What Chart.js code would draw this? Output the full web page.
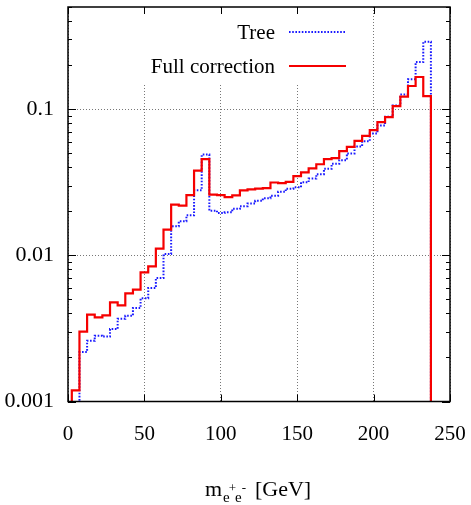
<!DOCTYPE html>
<html>
<head>
<meta charset="utf-8">
<script src="https://cdn.jsdelivr.net/npm/chart.js"></script>
<style>
  body { margin: 0; background: #fff; }
  #wrap { width: 471px; height: 505px; }
</style>
</head>
<body>
<div id="wrap"><canvas id="grafico" width="471" height="505"></canvas></div>
<script>
// Centros de los bins (GeV), ancho 5 GeV
const binCenters = [5, 10, 15, 20, 25, 30, 35, 40, 45, 50, 55, 60, 65, 70, 75, 80,
  85, 90, 95, 100, 105, 110, 115, 120, 125, 130, 135, 140, 145, 150, 155, 160,
  165, 170, 175, 180, 185, 190, 195, 200, 205, 210, 215, 220, 225, 230, 235];
const binWidth = 5;

const treeValues = [0.0009, 0.00218, 0.0026, 0.00282, 0.00278, 0.00313, 0.00368, 0.00386,
  0.00436, 0.00508, 0.00598, 0.0070, 0.0102, 0.0158, 0.0171, 0.0188,
  0.0279, 0.0489, 0.0202, 0.0195, 0.0197, 0.0208, 0.0217, 0.0226,
  0.0236, 0.0246, 0.0256, 0.0272, 0.0286, 0.0292, 0.0316, 0.0335,
  0.0359, 0.0391, 0.0423, 0.0448, 0.0498, 0.0556, 0.0604, 0.0682,
  0.0774, 0.0887, 0.106, 0.126, 0.160, 0.210, 0.289];

const fullValues = [0.00119, 0.00301, 0.00393, 0.00376, 0.00388, 0.00476, 0.00455, 0.00549,
  0.00582, 0.00765, 0.00841, 0.0111, 0.0150, 0.0222, 0.0219, 0.0258,
  0.0380, 0.0455, 0.0260, 0.0258, 0.0250, 0.0257, 0.0278, 0.0283,
  0.0286, 0.0288, 0.0315, 0.0312, 0.0318, 0.0348, 0.0369, 0.0393,
  0.0420, 0.0455, 0.0462, 0.0516, 0.0552, 0.0607, 0.0657, 0.0718,
  0.0815, 0.0882, 0.105, 0.122, 0.144, 0.166, 0.123];

const xTicks = [0, 50, 100, 150, 200, 250];
const yTicks = [0.001, 0.01, 0.1];
const legendLabels = ['Tree', 'Full correction'];

const FONT = "'Liberation Serif', 'Times New Roman', serif";

// Puntos del histograma: borde izquierdo de cada bin, y bajada al final
function histPoints(values) {
  const pts = [{ x: binCenters[0] - binWidth / 2, y: 1e-5 }];
  binCenters.forEach((c, i) => {
    pts.push({ x: c - binWidth / 2, y: values[i] });
  });
  pts.push({ x: binCenters[binCenters.length - 1] + binWidth / 2, y: 1e-5 });
  return pts;
}

// Marco, marcas de ticks, caja de la leyenda y título del eje x
const extras = {
  id: 'extras',
  beforeDatasetsDraw(chart) {
    const a = chart.chartArea;
    const ctx = chart.ctx;
    ctx.save();
    ctx.fillStyle = '#fff';
    ctx.fillRect(130, a.top + 1, 225, 82 - a.top);
    ctx.restore();
  },
  afterDraw(chart) {
    const a = chart.chartArea;
    const ctx = chart.ctx;
    const xs = chart.scales.x;
    const ys = chart.scales.y;
    ctx.save();
    ctx.strokeStyle = '#000';
    ctx.lineWidth = 1.5;
    ctx.strokeRect(a.left, a.top, a.right - a.left, a.bottom - a.top);

    ctx.lineWidth = 1;
    ctx.beginPath();
    xTicks.forEach(v => {
      const px = Math.round(xs.getPixelForValue(v)) + 0.5;
      ctx.moveTo(px, a.bottom); ctx.lineTo(px, a.bottom - 7);
      ctx.moveTo(px, a.top); ctx.lineTo(px, a.top + 7);
    });
    yTicks.forEach(dec => {
      for (let m = 1; m <= 9; m++) {
        const v = dec * m;
        if (v > ys.max) break;
        const py = Math.round(ys.getPixelForValue(v)) + 0.5;
        const len = m === 1 ? 8 : 4;
        ctx.moveTo(a.left, py); ctx.lineTo(a.left + len, py);
        ctx.moveTo(a.right, py); ctx.lineTo(a.right - len, py);
      }
    });
    ctx.stroke();

    // leyenda
    ctx.font = '21px ' + FONT;
    ctx.fillStyle = '#000';
    ctx.textAlign = 'right';
    ctx.textBaseline = 'middle';
    const rows = [33, 67];
    chart.data.datasets.forEach((ds, i) => {
      ctx.fillText(legendLabels[i], 275, rows[i]);
      ctx.strokeStyle = ds.borderColor;
      ctx.lineWidth = ds.borderWidth;
      ctx.setLineDash(ds.borderDash || []);
      ctx.beginPath();
      ctx.moveTo(289, rows[i] - 1);
      ctx.lineTo(346, rows[i] - 1);
      ctx.stroke();
    });
    ctx.setLineDash([]);

    // título del eje x: m_{e+e-} [GeV]
    ctx.fillStyle = '#000';
    ctx.textAlign = 'left';
    ctx.textBaseline = 'alphabetic';
    const base = 496;
    let x = 205;
    ctx.font = '22px ' + FONT;
    ctx.fillText('m', x, base);
    x += ctx.measureText('m').width + 1;
    ctx.font = '15px ' + FONT;
    ctx.fillText('e', x, base + 6);
    x += ctx.measureText('e').width;
    ctx.font = '13px ' + FONT;
    ctx.fillText('+', x - 1, base - 4);
    x += ctx.measureText('+').width - 2;
    ctx.font = '15px ' + FONT;
    ctx.fillText('e', x, base + 6);
    x += ctx.measureText('e').width;
    ctx.font = '13px ' + FONT;
    ctx.fillText('-', x, base - 4);
    ctx.font = '22px ' + FONT;
    ctx.fillText('[GeV]', 255, base);
    ctx.restore();
  }
};

const ctx = document.getElementById('grafico').getContext('2d');
new Chart(ctx, {
  type: 'line',
  data: {
    datasets: [{
      label: legendLabels[0],
      data: histPoints(treeValues),
      borderColor: '#1a1aff',
      borderWidth: 2,
      borderDash: [1.6, 1.6],
      stepped: 'before',
      pointRadius: 0,
      fill: false,
      order: 2
    }, {
      label: legendLabels[1],
      data: histPoints(fullValues),
      borderColor: '#f50000',
      borderWidth: 2.2,
      stepped: 'before',
      pointRadius: 0,
      fill: false,
      order: 1
    }]
  },
  options: {
    responsive: false,
    animation: false,
    layout: { padding: { top: 7, right: 21, bottom: 55.5, left: 0 } },
    plugins: {
      legend: { display: false },
      tooltip: { enabled: false }
    },
    scales: {
      x: {
        type: 'linear',
        min: 0,
        max: 250,
        afterBuildTicks: scale => { scale.ticks = xTicks.map(v => ({ value: v })); },
        afterFit: scale => {
          scale.height = 48;
          scale.paddingLeft = 0;
          scale.paddingRight = 0;
        },
        ticks: {
          font: { family: FONT, size: 21 },
          color: '#000',
          padding: 20,
          maxRotation: 0
        },
        grid: { color: '#777', lineWidth: 1, drawTicks: false },
        border: { display: false, dash: [1, 2] }
      },
      y: {
        type: 'logarithmic',
        min: 0.001,
        max: 0.5,
        afterBuildTicks: scale => { scale.ticks = yTicks.map(v => ({ value: v })); },
        afterFit: scale => {
          scale.width = 68;
          scale.paddingTop = 0;
          scale.paddingBottom = 0;
        },
        ticks: {
          font: { family: FONT, size: 22 },
          color: '#000',
          padding: 14,
          callback: v => String(v)
        },
        grid: { color: '#777', lineWidth: 1, drawTicks: false },
        border: { display: false, dash: [1, 2] }
      }
    }
  },
  plugins: [extras]
});
</script>
</body>
</html>
